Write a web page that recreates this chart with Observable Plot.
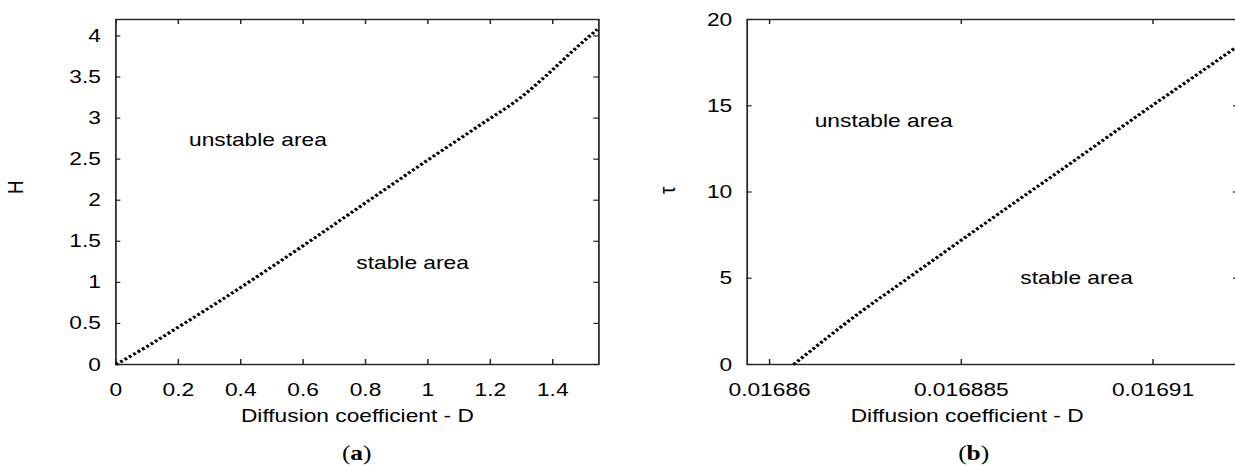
<!DOCTYPE html>
<html><head><meta charset="utf-8">
<script src="https://cdn.jsdelivr.net/npm/d3@7"></script>
<script src="https://cdn.jsdelivr.net/npm/@observablehq/plot@0.6"></script>
<style>
html,body{margin:0;padding:0;background:#fff;overflow:hidden;width:1235px;height:466px}
#fig{position:absolute;left:0;top:0;width:1024px;height:466px;transform:scaleX(1.21);transform-origin:0 0}
#fig svg{position:absolute;top:0}
.cap{position:absolute;top:442.7px;font-family:"Liberation Serif","Times New Roman",serif;font-size:21px;line-height:1;transform:translateX(-50%);white-space:nowrap;color:#000}
</style></head><body><div id="fig"></div>
<script>
// ---- data ----
const panelA_D = [0, 0.1, 0.2, 0.336, 0.5, 0.65, 0.816, 1.0, 1.169, 1.297, 1.383, 1.468, 1.543];
const panelA_H = [0, 0.22, 0.455, 0.78, 1.19, 1.575, 2.01, 2.49, 2.92, 3.25, 3.53, 3.83, 4.08];
const panelB_D = [0.01686313, 0.01687174, 0.01687787, 0.01689391, 0.01689665, 0.01690969, 0.01691621, 0.01692077];
const panelB_tau = [0, 3.0, 4.95, 10.0, 10.85, 14.95, 16.95, 18.37];
const ticksA_x = [0, 0.2, 0.4, 0.6, 0.8, 1, 1.2, 1.4];
const ticksA_y = [0, 0.5, 1, 1.5, 2, 2.5, 3, 3.5, 4];
const ticksB_x = [0.01686, 0.016885, 0.01691];
const ticksB_y = [0, 5, 10, 15, 20];
const notesA = [{text: "unstable area", D: 0.455, v: 2.73}, {text: "stable area", D: 0.951, v: 1.23}];
const notesB = [{text: "unstable area", D: 0.01687487, v: 14.13}, {text: "stable area", D: 0.01690004, v: 5.0}];
const xTitle = "Diffusion coefficient - D";

// ---- layout ----
const S = 1.21; // horizontal stretch of the whole figure
const H = 466, MT = 19, MB = 102, innerH = H - MT - MB;
const font = {fontFamily: "'Liberation Sans', Arial, Helvetica, sans-serif", fontSize: "18.8px", color: "#000", background: "transparent", overflow: "visible"};
const ink = "#222";

function panel({width, ml, mr, xDomain, yDomain, xs, ys, data, notes, ylabel, ylabelDx, titleDx}) {
  const innerW = width - ml - mr;
  const tl = 5 / S;
  return Plot.plot({
    width, height: H, marginLeft: ml, marginRight: mr, marginTop: MT, marginBottom: MB,
    x: {domain: xDomain}, y: {domain: yDomain},
    style: font,
    marks: [
      Plot.frame({stroke: ink, strokeWidth: 1.4}),
      Plot.tickX(xs, {x: d => d, insetTop: innerH - 5, stroke: ink, strokeWidth: 1.2}),
      Plot.tickX(xs, {x: d => d, insetBottom: innerH - 5, stroke: ink, strokeWidth: 1.2}),
      Plot.tickY(ys, {y: d => d, insetRight: innerW - tl, stroke: ink, strokeWidth: 1.2}),
      Plot.tickY(ys, {y: d => d, insetLeft: innerW - tl, stroke: ink, strokeWidth: 1.2}),
      Plot.axisX(xs, {tickSize: 0, tickPadding: 18, tickFormat: d => String(d), label: null}),
      Plot.axisY(ys, {tickSize: 0, tickPadding: 12.4, tickFormat: d => String(d), label: null}),
      Plot.line(data, {x: "D", y: "v", curve: "monotone-x", stroke: "#000", strokeWidth: 3, strokeDasharray: "2.4 2", strokeLinecap: "butt"}),
      Plot.text(notes, {x: "D", y: "v", text: "text", fill: "#000"}),
      Plot.text([xTitle], {frameAnchor: titleDx == null ? "bottom" : "bottom-left", dx: titleDx == null ? 0 : titleDx, dy: 57, textAnchor: "middle", fill: "#000"}),
      Plot.text([ylabel], {frameAnchor: "left", dx: ylabelDx, dy: 2, rotate: -90, fill: "#000"})
    ]
  });
}

const dataA = panelA_D.map((D, i) => ({D, v: panelA_H[i]}));
const dataB = panelB_D.map((D, i) => ({D, v: panelB_tau[i]}));

const fig = document.getElementById("fig");

const a = panel({width: 520, ml: 95.3, mr: 25.54, xDomain: [0, 1.548], yDomain: [0, 4.2],
  xs: ticksA_x, ys: ticksA_y, data: dataA, notes: notesA, ylabel: "H", ylabelDx: -82.9});
a.style.left = "0px";
fig.appendChild(a);

const b = panel({width: 504, ml: 97.02, mr: 0.86, xDomain: [0.016857079, 0.016921163], yDomain: [0, 20],
  xs: ticksB_x, ys: ticksB_y, data: dataB, notes: notesB, ylabel: "τ", ylabelDx: -66, titleDx: 181.8});
b.style.left = "520px";
fig.appendChild(b);

for (const [lab, cx] of [["a", 294.8], ["b", 804.7]]) {
  const d = document.createElement("div");
  d.className = "cap";
  d.style.left = cx + "px";
  d.innerHTML = "(<b>" + lab + "</b>)";
  fig.appendChild(d);
}
</script>
</body></html>
